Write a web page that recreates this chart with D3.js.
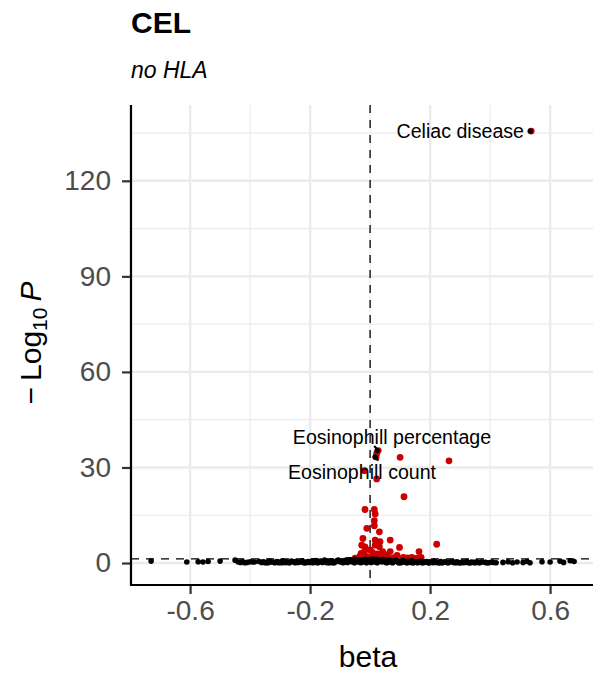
<!DOCTYPE html>
<html>
<head>
<meta charset="utf-8">
<script src="https://cdn.jsdelivr.net/npm/d3@7"></script>
<style>
  html, body { margin: 0; padding: 0; background: #fff; }
  svg { display: block; font-family: "Liberation Sans", Arial, Helvetica, sans-serif; }
</style>
</head>
<body>
<svg id="chart" width="593" height="675"></svg>
<script>
// ---------- data ----------
const titleText = "CEL";
const subtitleText = "no HLA";
const xTicks = [-0.6, -0.2, 0.2, 0.6];
const xMinor = [-0.8, -0.4, 0, 0.4];
const yTicks = [0, 30, 60, 90, 120];
const yMinor = [15, 45, 75, 105, 135];
const pThreshold = 1.3;

// non-significant variants (beta, -log10 P)
const nsBeta = [-0.73,-0.611,-0.573,-0.557,-0.54,-0.5,-0.45,-0.44,-0.425,-0.41,-0.40,-0.385,-0.37,
 -0.355,-0.345,-0.335,-0.325,-0.318,-0.31,-0.30,-0.292,-0.285,-0.278,-0.27,-0.262,-0.255,-0.248,-0.24,-0.232,-0.226,-0.22,-0.213,-0.206,-0.2,-0.194,-0.188,-0.182,-0.176,-0.17,-0.164,-0.158,-0.152,-0.146,-0.14,-0.135,-0.13,-0.124,-0.118,-0.112,-0.106,-0.1,-0.095,-0.09,-0.085,-0.08,-0.075,-0.07,-0.065,-0.06,-0.056,-0.052,-0.048,-0.044,-0.04,-0.036,-0.032,-0.028,-0.024,-0.02,-0.016,-0.012,-0.008,-0.004,0,0.004,0.008,0.012,0.016,0.02,0.024,0.028,0.032,0.036,0.04,0.045,0.05,0.055,0.06,0.065,0.07,0.075,0.08,0.086,0.092,0.098,0.104,0.11,0.116,0.122,0.128,0.134,0.14,0.146,0.152,0.158,0.164,0.17,0.176,0.182,0.188,0.194,0.2,0.207,0.214,0.221,0.228,0.235,0.242,0.25,0.258,0.266,0.274,0.282,0.29,0.298,0.306,0.314,0.322,0.33,0.338,0.346,0.355,0.365,0.375,0.385,0.395,0.405,
 0.443,0.46,0.475,0.49,0.51,0.523,0.533,0.573,0.6,0.633,0.645,0.667,0.68,
 -0.35,-0.33,-0.305,-0.28,-0.25,-0.23,-0.21,-0.19,-0.16,-0.143,-0.127,-0.109,-0.092,-0.077,-0.062,-0.05,-0.038,-0.026,-0.014,-0.002,0.01,0.022,0.034,0.047,0.058,0.072,0.084,0.1,0.113,0.125,0.143,0.161,0.179,0.197,0.218,0.24,0.262,0.288,0.31,0.335,0.36,
 -0.432,-0.418,-0.392,-0.362,-0.34,-0.315,-0.295,-0.268,-0.243,-0.217,-0.197,-0.172,-0.15,-0.122,-0.103,-0.082,-0.067,-0.054,-0.042,-0.03,-0.018,-0.006,0.006,0.018,0.03,0.043,0.053,0.068,0.078,0.095,0.107,0.119,0.137,0.155,0.173,0.191,0.211,0.232,0.254,0.278,0.302,0.326,0.35,0.37,0.39,0.41,0.42];
const nsLogP = [0.6,0.3,0.4,0.3,0.5,0.6,0.9,0.3,0.5,0.2,0.4,0.3,0.5,
 0.4,0.2,0.6,0.3,0.1,0.5,0.3,0.7,0.2,0.4,0.1,0.6,0.3,0.5,0.2,0.4,0.7,0.1,0.3,0.5,0.2,0.6,0.3,0.8,0.1,0.4,0.6,0.2,0.9,0.3,0.5,0.1,0.7,0.4,0.2,0.6,0.9,0.3,0.5,0.1,0.8,0.4,0.2,0.6,1.0,0.3,0.7,0.1,0.5,0.9,0.3,1.1,0.2,0.6,0.9,0.4,1.2,0.1,0.7,1.0,0.5,0.2,0.9,1.2,0.4,0.7,0.1,1.0,0.5,0.8,0.3,1.1,0.6,0.2,0.9,0.4,0.7,0.1,0.5,0.9,0.3,0.6,0.2,0.8,0.4,0.1,0.6,0.3,0.7,0.2,0.5,0.1,0.4,0.6,0.2,0.3,0.5,0.1,0.4,0.2,0.6,0.3,0.1,0.5,0.2,0.4,0.1,0.3,0.5,0.2,0.4,0.1,0.3,0.2,0.5,0.1,0.3,0.2,0.4,0.1,0.3,0.2,0.1,0.3,
 0.2,0.4,0.1,0.3,0.2,0.5,0.1,0.4,0.3,0.6,0.2,0.7,0.5,
 0.1,0.3,0.1,0.2,0.1,0.3,0.2,0.1,0.3,0.1,0.2,0.8,0.4,1.0,0.6,1.2,0.8,0.3,0.9,1.1,0.6,1.2,0.7,0.9,0.2,0.3,0.6,0.1,0.3,0.2,0.1,0.3,0.2,0.1,0.2,0.1,0.2,0.1,0.2,0.1,0.2,
 0.2,0.1,0.3,0.2,0.1,0.3,0.1,0.2,0.3,0.1,0.4,0.2,0.5,0.1,0.7,0.3,1.0,0.5,0.8,0.2,1.1,0.4,1.2,0.3,0.9,0.6,0.2,0.8,0.4,0.1,0.5,0.3,0.2,0.4,0.1,0.3,0.2,0.1,0.3,0.2,0.1,0.2,0.1,0.3,0.1,0.2,0.1];

// significant variants (beta, -log10 P)
const sigBeta = [0.113,-0.017,0.014,0.017,0.014,0.014,-0.011,0.031,-0.024,0.017,0.033,0.067,-0.028,-0.017,0.017,0.031,0.098,0.042,0.067,-0.019,0.0,-0.033,-0.011,0.011,0.033,0.056,0.083,0.111,0.139,0.163,-0.05,0.156,0.222,0.263,0.1,-0.019,0.022,0.022,0.17,-0.04,0.005,0.025,0.045,0.075,0.125,-0.03,0.008,0.05,0.09];
const sigLogP = [20.8,16.8,16.8,15.4,13.3,11.7,10.9,9.8,7.7,7.2,6.7,7.2,5.6,5.1,5.6,5.1,4.9,3.6,3.6,3.6,4.1,2.2,2.0,2.5,2.0,2.0,1.8,1.8,1.8,3.6,1.5,1.5,5.9,32.1,33.2,29.0,26.4,34.4,1.8,1.6,1.7,2.9,1.6,1.5,1.6,3.0,3.3,2.6,2.4];

// labelled variants
const labelNames = ["Celiac disease", "Eosinophill percentage", "Eosinophill count"];
const labelBeta = [0.537, 0.027, 0.02];
const labelLogP = [135.6, 35.3, 33.3];
const labelTextBeta = [0.513, 0.073, -0.027];
const labelTextLogP = [135.6, 39.5, 28.6];
const labelAnchor = ["end", "middle", "middle"];

// ---------- layout ----------
const svg = d3.select("#chart");
const panel = { left: 131, right: 605, top: 105, bottom: 585 };
const x = d3.scaleLinear().domain([-0.797, 0.783]).range([panel.left, panel.right]);
const y = d3.scaleLinear().domain([-6.9, 143.8]).range([panel.bottom, panel.top]);

const grid = svg.append("g");
grid.selectAll(".ymin").data(yMinor).join("line")
  .attr("x1", panel.left).attr("x2", panel.right)
  .attr("y1", d => y(d)).attr("y2", d => y(d))
  .attr("stroke", "#ebebeb").attr("stroke-width", 1.2);
grid.selectAll(".xmin").data(xMinor).join("line")
  .attr("y1", panel.top).attr("y2", panel.bottom)
  .attr("x1", d => x(d)).attr("x2", d => x(d))
  .attr("stroke", "#ebebeb").attr("stroke-width", 1.2);
grid.selectAll(".ymaj").data(yTicks).join("line")
  .attr("x1", panel.left).attr("x2", panel.right)
  .attr("y1", d => y(d)).attr("y2", d => y(d))
  .attr("stroke", "#ebebeb").attr("stroke-width", 2.4);
grid.selectAll(".xmaj").data(xTicks).join("line")
  .attr("y1", panel.top).attr("y2", panel.bottom)
  .attr("x1", d => x(d)).attr("x2", d => x(d))
  .attr("stroke", "#ebebeb").attr("stroke-width", 2.4);

// reference lines
svg.append("line")
  .attr("x1", x(0)).attr("x2", x(0)).attr("y1", panel.top).attr("y2", panel.bottom)
  .attr("stroke", "#000").attr("stroke-width", 1.3).attr("stroke-dasharray", "8,7");
svg.append("line")
  .attr("x1", panel.left).attr("x2", panel.right).attr("y1", y(pThreshold)).attr("y2", y(pThreshold))
  .attr("stroke", "#000").attr("stroke-width", 1.3).attr("stroke-dasharray", "8,7");

// points
const ns = nsBeta.map((b, i) => ({ b, p: nsLogP[i] }));
const sig = sigBeta.map((b, i) => ({ b, p: sigLogP[i] }));
const lab = labelNames.map((n, i) => ({ n, b: labelBeta[i], p: labelLogP[i], tb: labelTextBeta[i], tp: labelTextLogP[i], a: labelAnchor[i] }));

svg.append("g").selectAll("circle").data(sig.concat(lab)).join("circle")
  .attr("cx", d => x(d.b)).attr("cy", d => y(d.p)).attr("r", 3.4).attr("fill", "#cd0000");
svg.append("g").selectAll("circle").data(ns).join("circle")
  .attr("cx", d => x(d.b)).attr("cy", d => y(d.p)).attr("r", 2.8).attr("fill", "#000");
svg.append("g").selectAll("circle").data(lab).join("circle")
  .attr("cx", d => x(d.b) - 1).attr("cy", d => y(d.p)).attr("r", 2.7).attr("fill", "#000");

// labels with repel segments
const lg = svg.append("g");
lab.forEach(d => {
  const t = lg.append("text")
    .attr("x", x(d.tb)).attr("y", y(d.tp)).attr("dy", "0.35em")
    .attr("text-anchor", d.a).attr("font-size", 19.6).attr("fill", "#000").text(d.n);
  const bb = t.node().getBBox();
  const px = x(d.b), py = y(d.p);
  if (px >= bb.x && px <= bb.x + bb.width) {
    const ey = py < bb.y ? bb.y : (py > bb.y + bb.height ? bb.y + bb.height : null);
    if (ey !== null) {
      lg.insert("line", "text").attr("x1", px + (py < bb.y ? 2 : -4)).attr("y1", ey + (py < bb.y ? 0 : -2))
        .attr("x2", px).attr("y2", py)
        .attr("stroke", "#000").attr("stroke-width", 2.2);
    }
  }
});

// axes
const xAxis = d3.axisBottom(x).tickValues(xTicks).tickSize(9).tickPadding(6)
  .tickFormat(d => d3.format(".1f")(d).replace("−", "-"));
const gx = svg.append("g").attr("transform", `translate(0,${panel.bottom})`).call(xAxis);
const yAxis = d3.axisLeft(y).tickValues(yTicks).tickSize(9).tickPadding(11).tickFormat(d3.format("d"));
const gy = svg.append("g").attr("transform", `translate(${panel.left},0)`).call(yAxis);
[gx, gy].forEach(g => {
  g.select(".domain").remove();
  g.selectAll(".tick line").attr("stroke", "#333").attr("stroke-width", 2.2);
  g.selectAll(".tick text").attr("fill", "#4d4d4d").attr("font-size", 28)
    .attr("font-family", "'Liberation Sans', Arial, sans-serif");
});
svg.append("line").attr("x1", panel.left).attr("x2", panel.left).attr("y1", panel.top).attr("y2", panel.bottom + 1)
  .attr("stroke", "#000").attr("stroke-width", 2.2);
svg.append("line").attr("x1", panel.left - 1).attr("x2", panel.right).attr("y1", panel.bottom).attr("y2", panel.bottom)
  .attr("stroke", "#000").attr("stroke-width", 2.2);

// axis titles
svg.append("text").attr("x", (panel.left + panel.right) / 2).attr("y", 667)
  .attr("text-anchor", "middle").attr("font-size", 30).attr("fill", "#000").text("beta");
const yt = svg.append("text")
  .attr("transform", `translate(41,${(panel.top + panel.bottom) / 2 - 2}) rotate(-90)`)
  .attr("text-anchor", "middle").attr("font-size", 30).attr("fill", "#000");
yt.append("tspan").text("\u2212\u2009Log");
yt.append("tspan").attr("font-size", 21).attr("dy", 6).text("10");
yt.append("tspan").attr("dy", -6).text("\u2009");
yt.append("tspan").attr("font-style", "italic").text("P");

// titles
svg.append("text").attr("x", 131).attr("y", 33).attr("font-size", 30).attr("font-weight", "bold")
  .attr("fill", "#000").text(titleText);
svg.append("text").attr("x", 131).attr("y", 78).attr("font-size", 23).attr("font-style", "italic")
  .attr("fill", "#000").text(subtitleText);
</script>
</body>
</html>
